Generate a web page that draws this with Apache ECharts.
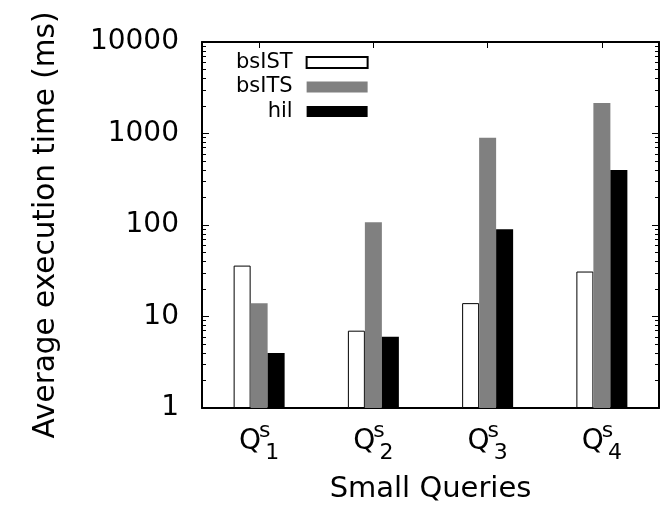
<!DOCTYPE html>
<html>
<head>
<meta charset="utf-8">
<script src="https://cdn.jsdelivr.net/npm/echarts@6.0.0/dist/echarts.min.js"></script>
<style>
  html, body { margin: 0; padding: 0; background: #fff; }
  #chart { width: 664px; height: 510px; }
</style>
</head>
<body>
<div id="chart"></div>
<script>
// query numbers (shown as Q with subscript n and superscript s)
const queries = ['1', '2', '3', '4'];
// average execution time in ms
const bsIST = [36, 7, 14, 31];
const bsITS = [14, 107, 900, 2150];
const hil = [4, 6, 90, 400];
const yTicks = [1, 10, 100, 1000, 10000];

// log minor ticks 2..9 in every decade
const minorTicks = [];
for (let i = 0; i < yTicks.length - 1; i++) {
    for (let k = 2; k <= 9; k++) minorTicks.push(yTicks[i] * k);
}

const font = 'DejaVu Sans';
const black = '#000';

function yAxisBase(pos) {
    return {
        type: 'log',
        logBase: 10,
        min: 1,
        max: 10000,
        position: pos,
        splitLine: { show: false },
        axisLine: { show: true, lineStyle: { color: black, width: 2 } },
        axisTick: { show: true, inside: true, length: 7, lineStyle: { color: black, width: 1 } },
        axisLabel: { show: false }
    };
}
function minorAxis(pos) {
    let a = yAxisBase(pos);
    a.axisLine = { show: false };
    a.axisTick = { show: true, inside: true, length: 4, customValues: minorTicks, lineStyle: { color: black, width: 1 } };
    return a;
}

let yMain = yAxisBase('left');
yMain.axisLabel = {
    show: true,
    customValues: yTicks,
    margin: 23,
    color: black,
    fontFamily: font,
    fontSize: 28,
    formatter: function (v) { return String(v); }
};
yMain.axisTick.customValues = yTicks;
yMain.name = 'Average execution time (ms)';
yMain.nameLocation = 'middle';
yMain.nameGap = 141;
yMain.nameTextStyle = { color: black, fontFamily: font, fontSize: 29.5 };

let yRight = yAxisBase('right');
yRight.axisTick.customValues = yTicks;

const option = {
    animation: false,
    backgroundColor: '#fff',
    grid: { left: 202, right: 5, top: 42, bottom: 102 },
    legend: {
        orient: 'vertical',
        align: 'right',
        left: 236,
        top: 52,
        padding: 0,
        itemGap: 3.5,
        itemWidth: 61,
        itemHeight: 11,
        icon: 'rect',
        textStyle: { color: black, fontFamily: font, fontSize: 21, padding: [0, 9, 0, 0] },
        data: ['bsIST', 'bsITS', 'hil']
    },
    xAxis: [
        {
            type: 'category',
            data: queries,
            position: 'bottom',
            axisLine: { show: true, lineStyle: { color: black, width: 2 } },
            axisTick: { show: true, inside: true, alignWithLabel: true, length: 6, lineStyle: { color: black } },
            axisLabel: {
                interval: 0,
                margin: 12,
                color: black,
                fontFamily: font,
                formatter: function (v) { return '{q|Q}{s|s}{n|' + v + '}'; },
                rich: {
                    q: { fontSize: 28, lineHeight: 44, verticalAlign: 'middle', fontFamily: font, color: black },
                    s: { fontSize: 22, width: 1, verticalAlign: 'top', padding: [0, 0, 0, 3], fontFamily: font, color: black },
                    n: { fontSize: 22, verticalAlign: 'bottom', fontFamily: font, color: black }
                }
            },
            name: 'Small Queries',
            nameLocation: 'middle',
            nameGap: 67,
            nameTextStyle: { color: black, fontFamily: font, fontSize: 29 }
        },
        {
            type: 'category',
            data: queries,
            position: 'top',
            axisLine: { show: true, lineStyle: { color: black, width: 2 } },
            axisTick: { show: true, inside: true, alignWithLabel: true, length: 6, lineStyle: { color: black } },
            axisLabel: { show: false }
        }
    ],
    yAxis: [yMain, minorAxis('left'), yRight, minorAxis('right')],
    series: [
        {
            name: 'bsIST', type: 'bar', barWidth: 17, barGap: '0%',
            itemStyle: { color: '#fff', borderColor: black, borderWidth: 1 },
            data: bsIST
        },
        {
            name: 'bsITS', type: 'bar', barWidth: 17, barGap: '0%',
            itemStyle: { color: '#808080' },
            data: bsITS
        },
        {
            name: 'hil', type: 'bar', barWidth: 17, barGap: '0%',
            itemStyle: { color: black },
            data: hil
        }
    ]
};

const chart = echarts.init(document.getElementById('chart'));
chart.setOption(option);
</script>
</body>
</html>
